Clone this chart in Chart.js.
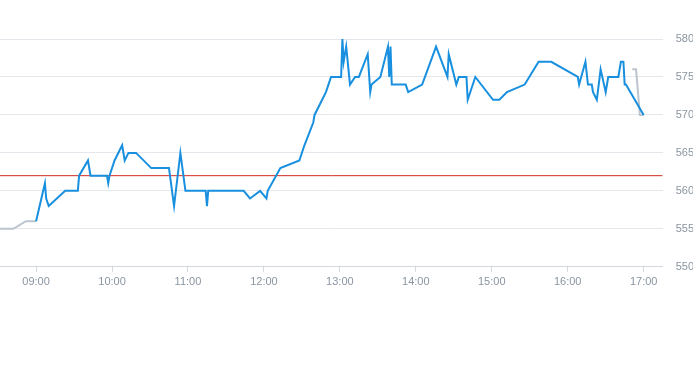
<!DOCTYPE html>
<html>
<head>
<meta charset="utf-8">
<script src="https://cdn.jsdelivr.net/npm/chart.js@4/dist/chart.umd.min.js"></script>
<style>
  body { margin: 0; background: #fff; overflow: hidden; }
  #wrap { width: 707px; height: 365px; position: relative; }
</style>
</head>
<body>
<div id="wrap"><canvas id="priceChart"></canvas></div>
<script>
// ===== Data =====
const sessionTimes = ['09:00','09:07','09:08','09:10','09:23','09:33','09:34','09:41','09:43','09:56','09:57','09:58',
  '10:02','10:08','10:10','10:13','10:19','10:31','10:45','10:49','10:54','10:58',
  '11:14','11:15','11:16','11:44','11:49','11:57','12:02','12:03','12:13','12:28','12:32','12:39','12:40','12:46','12:49','12:51','12:53',
  '13:01','13:02','13:03','13:05','13:08','13:12','13:15','13:22','13:24','13:25','13:32','13:38','13:39','13:40','13:41','13:52','13:54',
  '14:05','14:16','14:25','14:26','14:32','14:34','14:40','14:41','14:47',
  '15:01','15:06','15:12','15:26','15:37','15:47',
  '16:08','16:09','16:14','16:16','16:19','16:20','16:23','16:26','16:30','16:32','16:40','16:42','16:44','16:45','16:46','17:00'];
const sessionPrices = [556,561,559,558,560,560,562,564,562,562,561,562,
  564,566,564,565,565,563,563,558,565,560,
  560,558,560,560,559,560,559,560,563,564,566,569,570,572,573,574,575,
  575,580,577,579,574,575,575,578,573,574,575,579,575,579,574,574,573,
  574,579,575,578,574,575,575,572,575,
  572,572,573,574,577,577,
  575,574,577,574,574,573,572,576,573,575,575,577,577,574,574,570];

const preTimes = ['08:30','08:42','08:52','09:00'];
const prePrices = [555,555,556,556];
const postTimes = ['16:51','16:54','16:57','17:00'];
const postPrices = [576,576,570,570];

const refLevel = 562;
const xTickLabels = ['09:00','10:00','11:00','12:00','13:00','14:00','15:00','16:00','17:00'];
const yTicks = [550,555,560,565,570,575,580];

// ===== Helpers =====
const toMin = s => { const p = s.split(':'); return (+p[0]) * 60 + (+p[1]); };
const fmt = m => String(Math.floor(m / 60)).padStart(2, '0') + ':' + String(m % 60).padStart(2, '0');
const pts = (t, v) => t.map((s, i) => ({ x: toMin(s), y: v[i] }));

const xMin = toMin('08:31') + 0.5;
const xMax = toMin('17:15');
const tickColor = '#8a95a1';
const gridColor = '#e4e7eb';

// ===== Chart =====
const ctx = document.getElementById('priceChart').getContext('2d');
new Chart(ctx, {
  type: 'line',
  data: {
    datasets: [
      { data: pts(sessionTimes, sessionPrices), borderColor: '#1890df', borderWidth: 2, pointRadius: 0, tension: 0 },
      { data: [{ x: xMin, y: refLevel }, { x: xMax, y: refLevel }], borderColor: '#d42a22', borderWidth: 1, pointRadius: 0 },
      { data: pts(preTimes, prePrices).concat([{ x: toMin('12:00'), y: null }], pts(postTimes, postPrices)),
        borderColor: '#bcc5ce', borderWidth: 2, pointRadius: 0, spanGaps: false }
    ]
  },
  options: {
    responsive: true,
    maintainAspectRatio: false,
    animation: false,
    layout: { padding: { top: 39, bottom: 72, left: 0, right: 0 } },
    plugins: { legend: { display: false }, tooltip: { enabled: false } },
    scales: {
      x: {
        type: 'linear',
        min: xMin,
        max: xMax,
        afterBuildTicks: axis => { axis.ticks = xTickLabels.map(s => ({ value: toMin(s) })); },
        ticks: { color: tickColor, font: { size: 11, family: 'Liberation Sans, Arial, sans-serif' }, padding: 4,
          maxRotation: 0, callback: v => fmt(v) },
        grid: { drawOnChartArea: false, drawTicks: true, tickLength: 5, color: '#d3d8de' },
        border: { display: true, color: '#d3d8de' }
      },
      y: {
        position: 'right',
        min: 550,
        max: 580,
        afterBuildTicks: axis => { axis.ticks = yTicks.map(v => ({ value: v })); },
        ticks: { color: tickColor, font: { size: 11, family: 'Liberation Sans, Arial, sans-serif' }, padding: 13 },
        grid: { color: gridColor, drawTicks: false },
        border: { display: false }
      }
    }
  }
});
</script>
</body>
</html>
